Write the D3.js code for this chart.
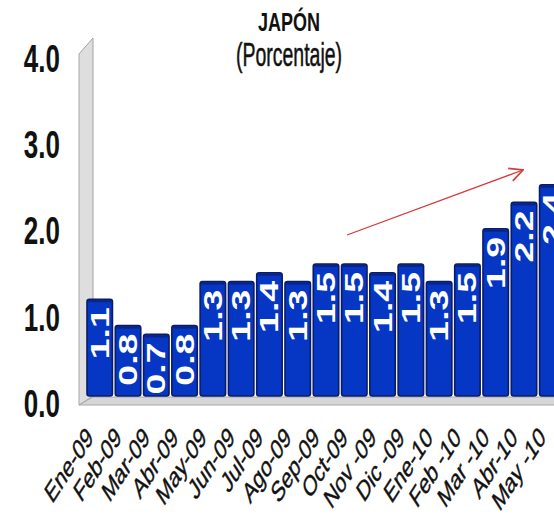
<!DOCTYPE html>
<html>
<head>
<meta charset="utf-8">
<script src="https://cdn.jsdelivr.net/npm/d3@7/dist/d3.min.js"></script>
<style>
  html, body { margin: 0; padding: 0; background: #fff; }
  svg { display: block; }
</style>
</head>
<body>
<svg id="chart" width="554" height="520"></svg>
<script>
// Monthly values for Japan, Jan 2009 – May 2010 (percent)
const categories = ["Ene-09", "Feb-09", "Mar-09", "Abr-09", "May-09", "Jun-09", "Jul-09",
  "Ago-09", "Sep-09", "Oct-09", "Nov -09", "Dic -09", "Ene-10", "Feb -10", "Mar -10",
  "Abr-10", "May -10"];
const values = [1.1, 0.8, 0.7, 0.8, 1.3, 1.3, 1.4, 1.3, 1.5, 1.5, 1.4, 1.5, 1.3, 1.5, 1.9, 2.2, 2.4];
const yTicks = [0, 1, 2, 3, 4];
const titleText = "JAPÓN";
const subtitleText = "(Porcentaje)";

const svg = d3.select("#chart");
const FONT = "'Liberation Sans', Arial, sans-serif";

// Scales: bars sit on the front plane, tick labels follow the wall
const x = d3.scaleBand().domain(categories).range([87, 565]).paddingInner(0.1).paddingOuter(0);
const y = d3.scaleLinear().domain([0, 4]).range([396, 44]);
const yLabel = d3.scaleLinear().domain([0, 4]).range([404, 59]);

// Left side wall (3D frame)
const wall = svg.append("g");
wall.append("path")
  .attr("d", d3.line()([[79, 405], [79, y(4) + 10], [93, y(4) - 6], [93, 396]]) + "Z")
  .attr("fill", "#dedede").attr("stroke", "#a4a4a4").attr("stroke-width", 1);

// Floor
wall.append("path")
  .attr("d", d3.line()([[79, 405], [560, 405], [560, 397], [93, 397]]) + "Z")
  .attr("fill", "#d6d6d6").attr("stroke", "#a8a8a8").attr("stroke-width", 1);

// Bars
const bars = svg.append("g");
bars.selectAll("rect")
  .data(values)
  .join("rect")
  .attr("x", (d, i) => x(categories[i]))
  .attr("y", d => y(d))
  .attr("width", x.bandwidth())
  .attr("height", d => y(0) - y(d))
  .attr("rx", 2.5)
  .attr("fill", "#0636c4")
  .attr("stroke", "#0b1c64")
  .attr("stroke-width", 1.6);

// Top cap shading of each bar
bars.selectAll("line.cap")
  .data(values)
  .join("line")
  .attr("class", "cap")
  .attr("x1", (d, i) => x(categories[i]) + 1.5)
  .attr("x2", (d, i) => x(categories[i]) + x.bandwidth() - 1.5)
  .attr("y1", d => y(d) + 2)
  .attr("y2", d => y(d) + 2)
  .attr("stroke", "#0a2486")
  .attr("stroke-width", 2);

// Value labels inside the bars, reading upward
svg.append("g").selectAll("text")
  .data(values)
  .join("text")
  .attr("transform", (d, i) =>
    `translate(${x(categories[i]) + x.bandwidth() / 2},${y(d) + 8}) scale(1,1.5) rotate(-90)`)
  .attr("text-anchor", "end")
  .attr("dy", "0.36em")
  .attr("font-family", FONT)
  .attr("font-weight", "bold")
  .attr("font-size", 25)
  .attr("fill", "#ffffff")
  .text(d => d.toFixed(1));

// Y axis tick labels
const yAxis = svg.append("g")
  .attr("transform", "translate(60,0)")
  .call(d3.axisLeft(yLabel).tickValues(yTicks).tickFormat(d3.format(".1f")).tickSize(0).tickPadding(0));
yAxis.select(".domain").remove();
yAxis.selectAll("text")
  .attr("font-family", FONT)
  .attr("font-weight", "bold")
  .attr("font-size", 26)
  .attr("fill", "#111")
  .attr("transform", "scale(1,1.5)");

// X axis category labels, slanted
const xAxis = svg.append("g")
  .attr("transform", "translate(0,436)")
  .call(d3.axisBottom(x).tickSize(0).tickPadding(0));
xAxis.select(".domain").remove();
xAxis.selectAll("text")
  .attr("font-family", FONT)
  .attr("font-size", 18.5)
  .attr("fill", "#111")
  .attr("stroke", "#111")
  .attr("stroke-width", 0.3)
  .attr("text-anchor", "end")
  .attr("y", 0)
  .attr("dy", "0.35em")
  .attr("transform", "translate(-10,-4) scale(1,1.55) rotate(-45)");

// Title block
svg.append("text")
  .attr("transform", "translate(289,31) scale(1,1.42)")
  .attr("text-anchor", "middle")
  .attr("font-family", FONT)
  .attr("font-weight", "bold")
  .attr("font-size", 18)
  .attr("fill", "#111")
  .text(titleText);
svg.append("text")
  .attr("transform", "translate(289,66) scale(1,1.75)")
  .attr("text-anchor", "middle")
  .attr("font-family", FONT)
  .attr("font-size", 19.5)
  .attr("fill", "#111")
  .attr("stroke", "#111")
  .attr("stroke-width", 0.3)
  .text(subtitleText);

// Trend arrow
svg.append("defs").append("marker")
  .attr("id", "arrowhead")
  .attr("viewBox", "0 0 12 12")
  .attr("refX", 11).attr("refY", 6)
  .attr("markerWidth", 16).attr("markerHeight", 16)
  .attr("markerUnits", "userSpaceOnUse")
  .attr("orient", "auto")
  .append("path")
  .attr("d", "M1,1 L11,6 L1,11")
  .attr("fill", "none")
  .attr("stroke", "#d63a3a")
  .attr("stroke-width", 1.3);
svg.append("line")
  .attr("x1", 347).attr("y1", 235)
  .attr("x2", 523).attr("y2", 170)
  .attr("stroke", "#d63a3a")
  .attr("stroke-width", 1.3)
  .attr("marker-end", "url(#arrowhead)");
</script>
</body>
</html>
